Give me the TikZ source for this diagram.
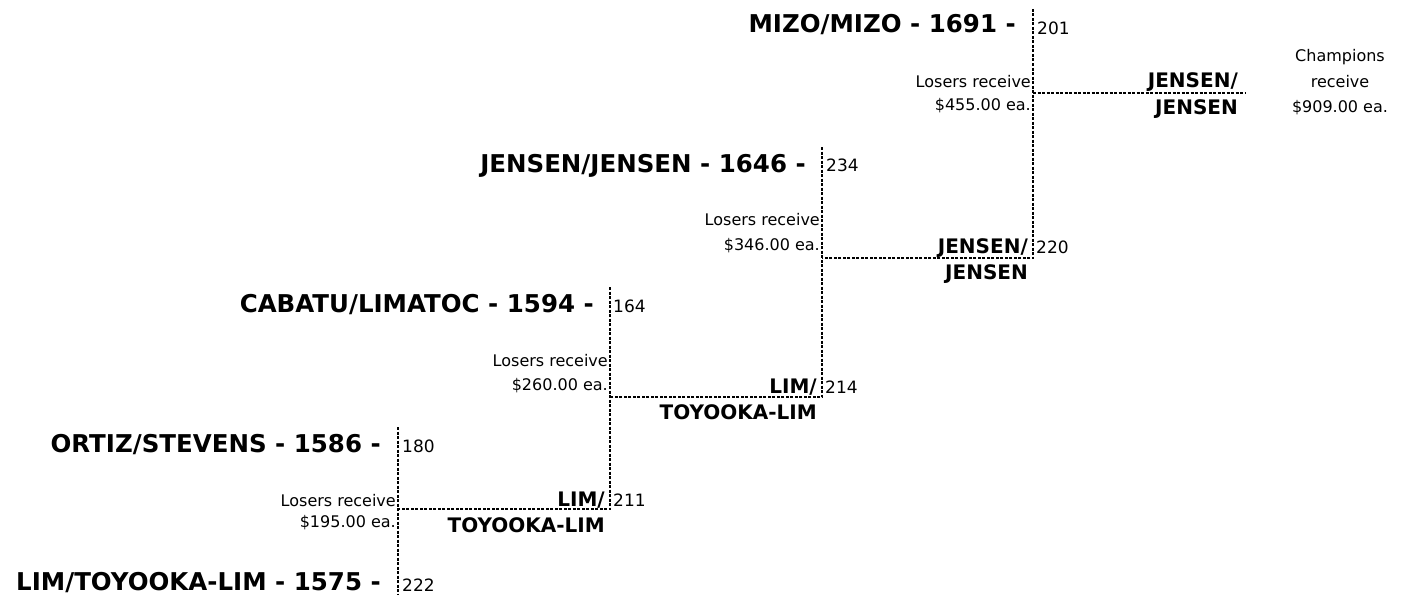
\documentclass[tikz,border=0pt]{standalone}
\usepackage{fontspec}
\setmainfont{DejaVu Sans}
\tikzset{
  team/.style={font=\fontsize{24.5}{28}\selectfont\bfseries, anchor=base east, inner sep=0pt},
  seed/.style={font=\fontsize{17}{20}\selectfont, anchor=base west, inner sep=0pt},
  winner/.style={font=\fontsize{20}{24}\selectfont\bfseries, anchor=base east, inner sep=0pt},
  prize/.style={font=\fontsize{16}{19}\selectfont, anchor=base east, inner sep=0pt},
  champ/.style={font=\fontsize{16}{19}\selectfont, anchor=base, inner sep=0pt},
  bracket/.style={line width=2pt, dash pattern=on 3pt off 1.5pt},
}
\begin{document}
\begin{tikzpicture}[x=1pt,y=-1pt]
\useasboundingbox (0,0) rectangle (1423,594);

% corner coordinates of the bracket
\coordinate (v1top) at (398,427);
\coordinate (v1bot) at (398,594);
\coordinate (m1l) at (398,509);
\coordinate (m1r) at (610,509);
\coordinate (v2top) at (610,287);
\coordinate (m2l) at (610,397);
\coordinate (m2r) at (822,397);
\coordinate (v3top) at (822,147);
\coordinate (m3l) at (822,258);
\coordinate (m3r) at (1033,258);
\coordinate (v4top) at (1033,9);
\coordinate (m4l) at (1033,93);
\coordinate (m4r) at (1246,93);

\draw[bracket] (v1top) -- (v1bot);
\draw[bracket] (v2top) -- (m1r) -- (m1l);
\draw[bracket] (v3top) -- (m2r) -- (m2l);
\draw[bracket] (v4top) -- (m3r) -- (m3l);
\draw[bracket] (m4l) -- (m4r);

% teams
\node[team] (t1) at (1016,33) {MIZO/MIZO - 1691 -};
\node[team] (t2) at (806,172) {JENSEN/JENSEN - 1646 -};
\node[team] (t3) at (594,312) {CABATU/LIMATOC - 1594 -};
\node[team] (t4) at (381,452) {ORTIZ/STEVENS - 1586 -};
\node[team] (t5) at (381,590) {LIM/TOYOOKA-LIM - 1575 -};

% scores
\node[seed] (s1) at (1037,35) {201};
\node[seed] (s2) at (826,171) {234};
\node[seed] (s3) at (613,312) {164};
\node[seed] (s4) at (402,452) {180};
\node[seed] (s5) at (402,591) {222};
\node[seed] (s6) at (1036,253) {220};
\node[seed] (s7) at (825,393) {214};
\node[seed] (s8) at (613,506) {211};

% winners
\node[winner] (w4a) at (1238,88) {JENSEN/};
\node[winner] (w4b) at (1238,114) {JENSEN};
\node[winner] (w3a) at (1028,253) {JENSEN/};
\node[winner] (w3b) at (1028,279) {JENSEN};
\node[winner] (w2a) at (817,393) {LIM/};
\node[winner] (w2b) at (817,419) {TOYOOKA-LIM};
\node[winner] (w1a) at (605,506) {LIM/};
\node[winner] (w1b) at (605,532) {TOYOOKA-LIM};

% losers' prizes
\node[prize] (p4a) at (1031,88) {Losers receive};
\node[prize] (p4b) at (1031,110) {\$455.00 ea.};
\node[prize] (p3a) at (820,225) {Losers receive};
\node[prize] (p3b) at (820,250) {\$346.00 ea.};
\node[prize] (p2a) at (608,366) {Losers receive};
\node[prize] (p2b) at (608,390) {\$260.00 ea.};
\node[prize] (p1a) at (396,506) {Losers receive};
\node[prize] (p1b) at (396,527) {\$195.00 ea.};

% champions
\node[champ] (c1) at (1340,62) {Champions};
\node[champ] (c2) at (1340,87) {receive};
\node[champ] (c3) at (1340,112) {\$909.00 ea.};
\end{tikzpicture}
\end{document}
